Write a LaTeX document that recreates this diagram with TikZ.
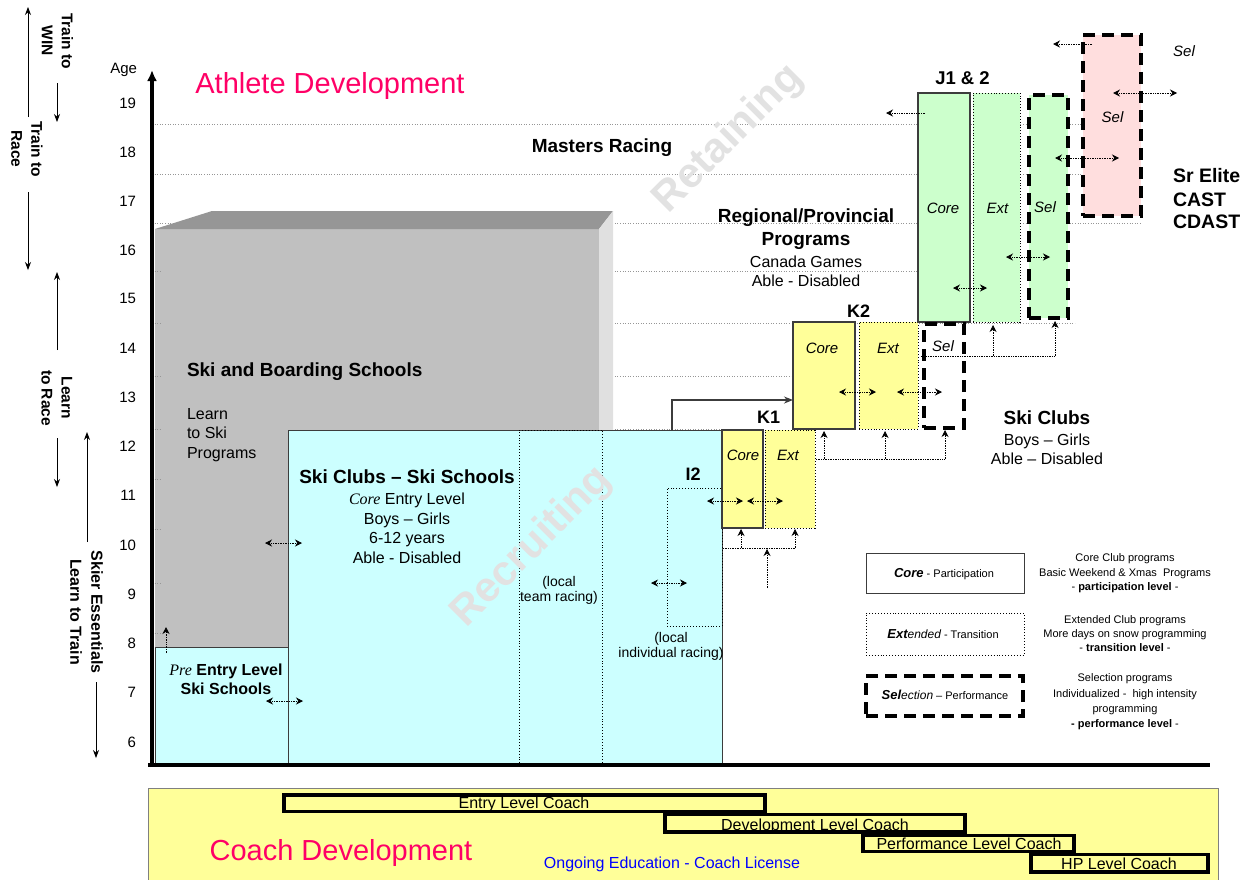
\documentclass[tikz,border=0pt]{standalone}
\usepackage{fontspec}
\setmainfont{Liberation Sans}
\newfontfamily\seriffont{Liberation Serif}
\usetikzlibrary{arrows.meta}
\definecolor{cyanbox}{RGB}{204,255,255}
\definecolor{yelbox}{RGB}{255,255,153}
\definecolor{grnbox}{RGB}{204,255,204}
\definecolor{pinkbox}{RGB}{255,222,222}
\definecolor{greyfront}{RGB}{192,192,192}
\definecolor{greytop}{RGB}{150,150,150}
\definecolor{greyside}{RGB}{224,224,224}
\definecolor{titlepink}{RGB}{255,0,102}
\definecolor{wmark}{RGB}{226,226,226}
\definecolor{gridc}{RGB}{150,150,150}
\definecolor{edgec}{RGB}{60,60,60}
\definecolor{licblue}{RGB}{0,0,255}
\newcommand{\setfs}[1]{\fontsize{#1}{#1}\selectfont}
\newcommand{\rbox}[6]{\node[#2,anchor=north west,minimum width={(#5)-(#3)},minimum height={(#6)-(#4)}] (#1) at (#3,#4) {};}
\begin{document}
\begin{tikzpicture}[x=1pt,y=-1pt,
  bx/.style={inner sep=0pt,outer sep=0pt,rectangle},
  corebox/.style={bx,draw=edgec,line width=1.2pt},
  extbox/.style={bx,draw=black,dotted,line width=0.9pt},
  selbox/.style={bx,draw=black,line width=3.6pt,dash pattern=on 12pt off 7pt},
  coachbox/.style={bx,draw=black,line width=3.2pt,fill=yelbox},
  gridl/.style={gridc,dotted,line width=0.6pt},
  darr/.style={densely dotted,line width=0.7pt,{Stealth[length=7pt,width=7pt]}-{Stealth[length=7pt,width=7pt]}},
  uarr/.style={densely dotted,line width=0.7pt,-{Stealth[length=7pt,width=7pt]}},
  sarr/.style={line width=0.8pt,-{Stealth[length=8pt,width=6pt]}},
  txt/.style={inner sep=0pt,outer sep=0pt,anchor=base},
  wm/.style={font=\setfs{42}\bfseries,text=wmark,rotate=45,inner sep=0pt},
  sidelbl/.style={rotate=-90,align=center,inner sep=0pt}
]
\useasboundingbox (0,0) rectangle (1247,879);
\fill[white] (0,0) rectangle (1247,879);

% grid lines
\foreach \yy/\xe in {124/1082,174/1082,223/1142,271/920,323/1075,376/795,429/722,479/600,529/600,583/600,633/600}
  \draw[gridl] (152,\yy) -- (\xe,\yy);

% grey 3D box
\rbox{sbs}{bx,fill=greyfront}{155}{229}{599}{765}
\fill[greytop] (155,229) -- (212,211) -- (613,211) -- (599,229) -- cycle;
\fill[greyside] (599,229) -- (613,211) -- (613,765) -- (599,765) -- cycle;
\foreach \yy in {271,323,376,429,479,529,583,633}
  \draw[gridl] (152,\yy) -- (160,\yy);

% cyan boxes
\rbox{clubs}{corebox,fill=cyanbox,line width=1pt}{288}{430}{722}{764}
\rbox{team}{extbox}{519}{430}{602}{764}
\rbox{pre}{corebox,fill=cyanbox,line width=1pt}{155}{647}{288}{764}
\rbox{itwo}{extbox}{667}{488}{722}{626}

% watermarks
\node[wm] (recr) at (532,547) {Recruiting};
\node[wm] (reta) at (729,139) {Retaining};

% K1, K2
\rbox{kacore}{corebox,fill=yelbox}{722}{430}{763}{528}
\rbox{kaext}{extbox,fill=yelbox}{765}{430}{815}{528}
\rbox{kbcore}{corebox,fill=yelbox}{793}{322}{855}{429}
\rbox{kbext}{extbox,fill=yelbox}{859}{322}{918}{429}
% J1 & 2
\rbox{jcore}{corebox,fill=grnbox}{918}{93}{970}{322}
\rbox{jext}{extbox,fill=grnbox}{973}{93}{1020}{322}
\rbox{jsel}{selbox,fill=grnbox}{1029}{95}{1068}{318}
\rbox{kbsel}{selbox}{924}{324}{964}{428}
\rbox{srsel}{selbox,fill=pinkbox}{1083}{35}{1141}{216}

% legend boxes
\rbox{lgcore}{corebox,line width=1pt}{866}{553}{1024}{593}
\rbox{lgext}{extbox}{866}{613}{1024}{655}
\rbox{lgsel}{selbox}{866}{676}{1023}{716}

% coach development
\rbox{coach}{bx,draw=gray,fill=yelbox,line width=0.6pt}{148}{788}{1218}{884}
\rbox{entry}{coachbox}{284}{795}{765}{811.5}
\rbox{devel}{coachbox}{665}{814.5}{965}{832}
\rbox{perf}{coachbox}{863}{835.5}{1074}{851.5}
\rbox{hp}{coachbox}{1031}{854.5}{1208}{872}

% axes
\draw[line width=4pt] (148,765) -- (1210,765);
\draw[line width=4pt,-{Latex[length=11pt,width=10pt]}] (152,767) -- (152,70);

% K2 feed arrow
\coordinate (clubsout) at (672,430);
\coordinate (kbin) at (793,400);
\draw[edgec,line width=1.3pt,-{Stealth[length=9pt,width=7pt]}] (clubsout) |- (kbin);

% dotted double arrows
\draw[darr] (265,543) -- (302,543);
\draw[darr] (266,701) -- (303,701);
\draw[darr] (651,583) -- (687,583);
\draw[darr] (707,501) -- (743,501);
\draw[darr] (747,501) -- (783,501);
\draw[darr] (839,392) -- (876,392);
\draw[darr] (897,392) -- (942,392);
\draw[darr] (953,288) -- (987,288);
\draw[darr] (1006,257) -- (1050,257);
\draw[darr] (1055,158) -- (1119,158);
\draw[darr] (1113,93) -- (1177,93);

% dotted single arrows
\draw[uarr] (166,653) -- (166,627);
\draw[uarr] (925,113) -- (886,113);
\draw[uarr] (1092,44) -- (1053,44);
\draw[densely dotted,line width=0.7pt] (723,548) -- (795,548);
\draw[uarr] (741,548) -- (741,529);
\draw[uarr] (795,548) -- (795,529);
\draw[uarr] (767,588) -- (767,549);
\draw[densely dotted,line width=0.7pt] (816,459) -- (945,459);
\draw[uarr] (824,459) -- (824,431);
\draw[uarr] (885,459) -- (885,431);
\draw[uarr] (945,459) -- (945,430);
\draw[densely dotted,line width=0.7pt] (921,356) -- (1055,356);
\draw[uarr] (993,356) -- (993,325);
\draw[uarr] (1055,356) -- (1055,321);

% left side arrows
\draw[sarr] (28,117) -- (28,7);
\draw[sarr] (57,83) -- (57,122);
\draw[sarr] (28,192) -- (28,270);
\draw[sarr] (57,350) -- (57,272);
\draw[sarr] (87,542) -- (87,432);
\draw[sarr] (57,438) -- (57,487);
\draw[sarr] (96,682) -- (96,758);

% left side labels
\node[sidelbl,font={\fontsize{15.5}{20}\selectfont\bfseries}] (ttw) at (57.5,41) {Train to\\WIN};
\node[sidelbl,font={\fontsize{15.5}{20}\selectfont\bfseries}] (ttr) at (27,149) {Train to\\Race};
\node[sidelbl,font={\fontsize{15.5}{20}\selectfont\bfseries}] (ltr) at (57,398) {Learn\\to Race};
\node[sidelbl,font={\fontsize{16}{21}\selectfont\bfseries}] (ske) at (86.5,612) {Skier Essentials\\Learn to Train};

% age axis labels
\node[txt,anchor=base east,font=\setfs{15}] (agelbl) at (137,73) {Age};
\foreach \a/\yy in {19/103,18/152,17/201,16/250,15/298,14/348,13/397,12/446,11/495,10/545,9/594,8/643,7/692,6/742}
  \node[txt,anchor=base east,font=\setfs{15}] (age\a) at (136,\yy+5.4) {\a};

% titles
\node[txt,font=\setfs{29},text=titlepink] (athl) at (330,93) {Athlete Development};
\node[txt,font=\setfs{29},text=titlepink] (coachdev) at (341,860) {Coach Development};
\node[txt,font=\setfs{16},text=licblue] (lic) at (672,868) {Ongoing Education - Coach License};

% headings
\node[txt,font=\setfs{19}\bfseries] (masters) at (602,152.5) {Masters Racing};
\node[txt,font=\setfs{19}\bfseries] (reg1) at (806,222) {Regional/Provincial};
\node[txt,font=\setfs{19}\bfseries] (reg2) at (806,245) {Programs};
\node[txt,font=\setfs{16}] (reg3) at (806,267) {Canada Games};
\node[txt,font=\setfs{16}] (reg4) at (806,286) {Able - Disabled};

\node[txt,anchor=base west,font=\setfs{19}\bfseries] (sbst) at (187,376) {Ski and Boarding Schools};
\node[txt,anchor=base west,font=\setfs{16}] (sbs1) at (187,419) {Learn};
\node[txt,anchor=base west,font=\setfs{16}] (sbs2) at (187,438.5) {to Ski};
\node[txt,anchor=base west,font=\setfs{16}] (sbs3) at (187,458) {Programs};

\node[txt,font=\setfs{19}\bfseries] (sct) at (407,483) {Ski Clubs -- Ski Schools};
\node[txt,font=\setfs{16}] (sc1) at (407,504.5) {{\seriffont\itshape Core} Entry Level};
\node[txt,font=\setfs{16}] (sc2) at (407,524) {Boys -- Girls};
\node[txt,font=\setfs{16}] (sc3) at (407,543.5) {6-12 years};
\node[txt,font=\setfs{16}] (sc4) at (407,563) {Able - Disabled};

\node[txt,font=\setfs{14}] (tr1) at (559,586) {(local};
\node[txt,font=\setfs{14}] (tr2) at (559,601) {team racing)};
\node[txt,font=\setfs{14}] (ir1) at (671,642) {(local};
\node[txt,font=\setfs{14}] (ir2) at (671,657) {individual racing)};
\node[txt,font=\setfs{18}\bfseries] (itwolbl) at (693,480) {I2};

\node[txt,font=\setfs{16}\bfseries] (pre1) at (226,675) {{\seriffont\mdseries\itshape Pre} Entry Level};
\node[txt,font=\setfs{16}\bfseries] (pre2) at (226,694) {Ski Schools};

% program labels
\node[txt,font=\setfs{18}\bfseries] (kalbl) at (768.5,423) {K1};
\node[txt,font=\setfs{18}\bfseries] (kblbl) at (858.5,317) {K2};
\node[txt,font=\setfs{18.5}\bfseries] (jlbl) at (962.5,84) {J1 \& 2};
\node[txt,font=\setfs{15}\itshape] (kacl) at (743,460) {Core};
\node[txt,font=\setfs{15}\itshape] (kael) at (788,460) {Ext};
\node[txt,font=\setfs{15}\itshape] (kbcl) at (822,353) {Core};
\node[txt,font=\setfs{15}\itshape] (kbel) at (888,353) {Ext};
\node[txt,font=\setfs{15}\itshape] (kbsl) at (943,351) {Sel};
\node[txt,font=\setfs{15}\itshape] (jcl) at (943,213) {Core};
\node[txt,font=\setfs{15}\itshape] (jel) at (997.5,213) {Ext};
\node[txt,font=\setfs{15}\itshape] (jsl) at (1045,212) {Sel};
\node[txt,font=\setfs{15}\itshape] (srsl) at (1112.5,122) {Sel};
\node[txt,font=\setfs{15}\itshape] (srout) at (1184,56) {Sel};

\node[txt,anchor=base west,font=\setfs{19.5}\bfseries] (sr1) at (1173,182) {Sr Elite};
\node[txt,anchor=base west,font=\setfs{19.5}\bfseries] (sr2) at (1173,206) {CAST};
\node[txt,anchor=base west,font=\setfs{19.5}\bfseries] (sr3) at (1173,228) {CDAST};

\node[txt,font=\setfs{19}\bfseries] (skc1) at (1047,424) {Ski Clubs};
\node[txt,font=\setfs{16}] (skc2) at (1047,445) {Boys -- Girls};
\node[txt,font=\setfs{16}] (skc3) at (1047,464) {Able -- Disabled};

% legend texts
\node[txt] (lgcoret) at (944,577) {{\setfs{13}\bfseries\itshape Core}{\setfs{11} - Participation}};
\node[txt] (lgextt) at (943,638) {{\setfs{13}\bfseries\itshape Ext}{\setfs{12}\itshape ended}{\setfs{11} - Transition}};
\node[txt] (lgselt) at (945,699) {{\setfs{13}\bfseries\itshape Sel}{\setfs{12}\itshape ection}{\setfs{11} -- Performance}};

\node[txt,font=\setfs{11}] (lr1) at (1125,561) {Core Club programs};
\node[txt,font=\setfs{11}] (lr2) at (1125,576) {Basic Weekend \& Xmas\ \ Programs};
\node[txt,font=\setfs{11}] (lr3) at (1125,590) {- \textbf{participation level} -};
\node[txt,font=\setfs{11}] (lr4) at (1125,623) {Extended Club programs};
\node[txt,font=\setfs{11}] (lr5) at (1125,637) {More days on snow programming};
\node[txt,font=\setfs{11}] (lr6) at (1125,651) {- \textbf{transition level} -};
\node[txt,font=\setfs{11}] (lr7) at (1125,681) {Selection programs};
\node[txt,font=\setfs{11}] (lr8) at (1125,697) {Individualized -\ \ high intensity};
\node[txt,font=\setfs{11}] (lr9) at (1125,712) {programming};
\node[txt,font=\setfs{11}] (lr10) at (1125,727) {\textbf{- performance level} -};

% coach level texts
\node[txt,font=\setfs{16}] (entryt) at (524,808.5) {Entry Level Coach};
\node[txt,font=\setfs{16}] (develt) at (815,830) {Development Level Coach};
\node[txt,font=\setfs{16}] (perft) at (969,849) {Performance Level Coach};
\node[txt,font=\setfs{16}] (hpt) at (1119,869.5) {HP Level Coach};
\end{tikzpicture}
\end{document}
